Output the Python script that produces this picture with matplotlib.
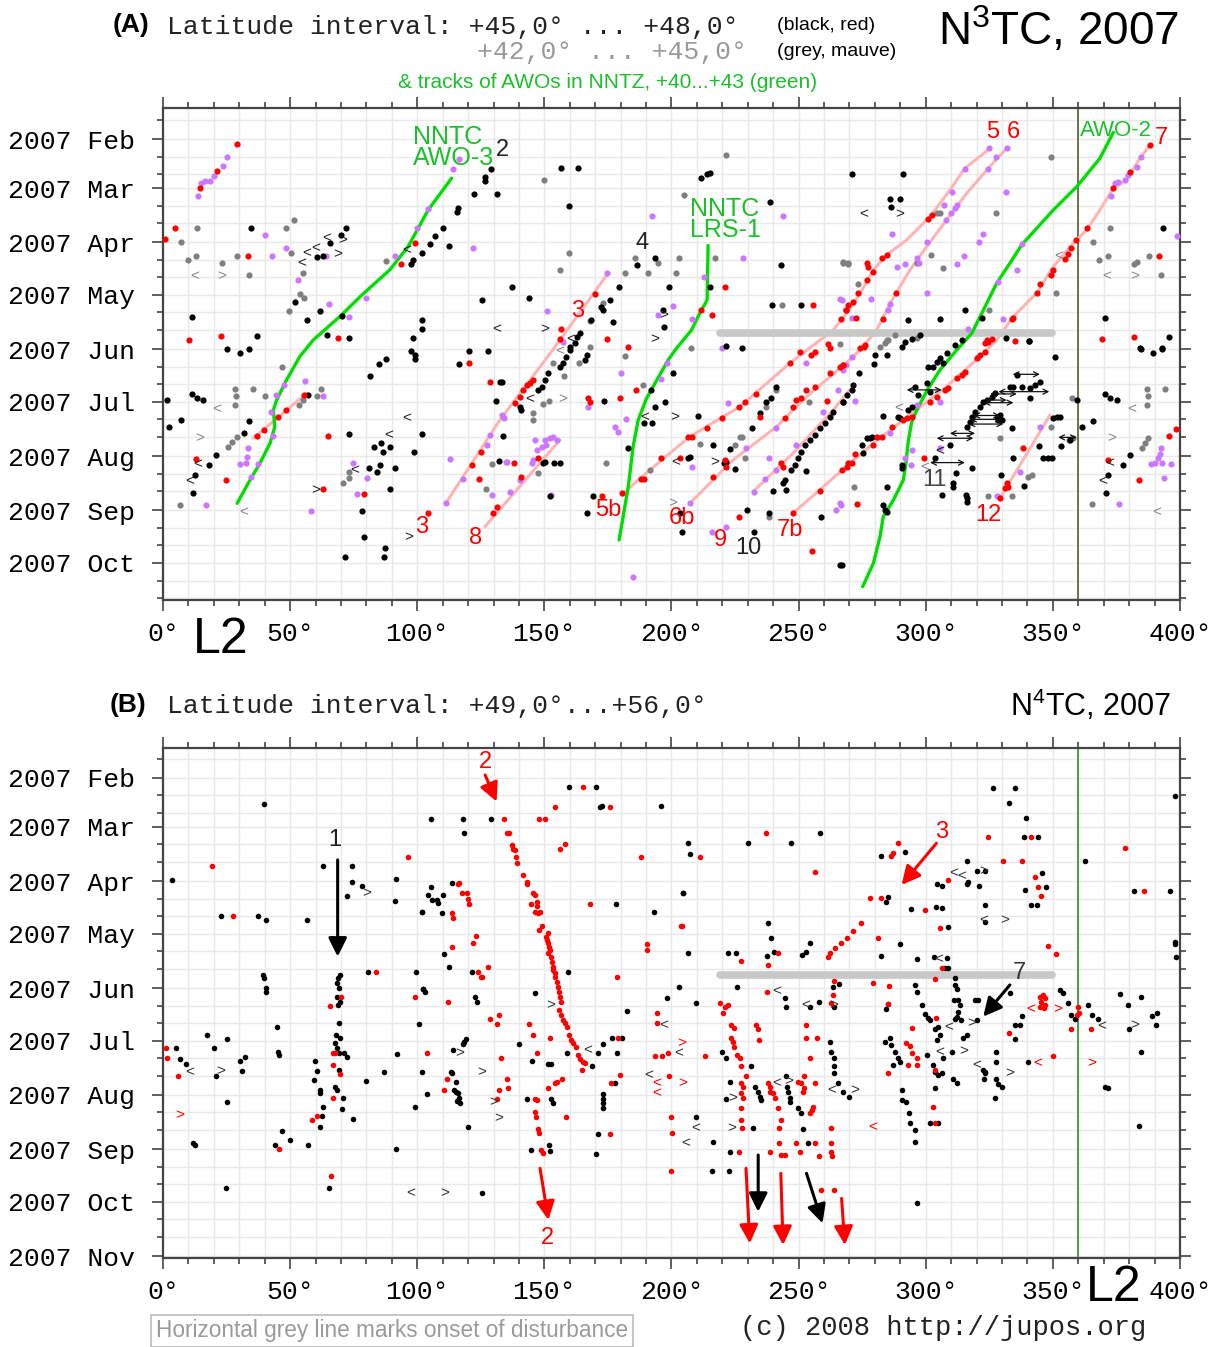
import numpy as np
import matplotlib
matplotlib.use('Agg')
from matplotlib import pyplot as plt

plt.rcParams['font.family'] = ['Liberation Sans', 'DejaVu Sans']
plt.rcParams['mathtext.fontset'] = 'custom'
plt.rcParams['mathtext.rm'] = 'Liberation Sans'
plt.rcParams['mathtext.default'] = 'rm'

MONO = 'Liberation Mono'

#=================================================
# DATA  (x = System II longitude L2 [deg], y = day of year 2007)
#=================================================
MONTH_NAMES = ['Jan', 'Feb', 'Mar', 'Apr', 'May', 'Jun', 'Jul', 'Aug', 'Sep', 'Oct', 'Nov', 'Dec']
MONTH_DAY = [1, 32, 60, 91, 121, 152, 182, 213, 244, 274, 305, 335]

# ---- panel A : N3TC, +45..+48 (black, red) and +42..+45 (grey, mauve)
A_BLACK = [
    (34.8,82.5),(72.1,82.5),(70.1,86.9),(65.6,91.5),(63,98.7),(60.4,99.1),(51.9,125.3),(61.7,130),(56.5,135.2),
    (70.5,133),(11.6,133.7),(36.8,144.7),(73.2,145.6),(64.7,143.7),(110,82.5),(106.8,87.6),(105,91.8),(112.6,92.8),
    (101.7,97.2),(98.4,101),(97.4,103.6),(116.1,71.5),(115.5,73.4),(122.4,63.5),(131.2,63.5),(126.6,53.8),(126.6,55.7),
    (129,49.1),(125.6,123.6),(101.7,135.2),(101.8,140.5),(98.2,145.6),
    (25.3,152),(30.3,154.3),(33.8,152),(97.4,152.8),(99.3,155.3),(99.3,157.4),(85,160.2),(87.7,157.4),(81.6,167.4),
    (116.5,160.2),(120.2,152.8),(128,152.8),(132.5,170.5),(131,181.3),(132.1,215.8),(1.4,181),(11.3,177.5),(13.5,180),
    (15.6,181),(6.9,192.4),(2.5,196.2),(33.9,193),(31.8,199.6),(57.1,178.3),(20.8,212.3),(18.2,218.1),(12.7,224),
    (11.9,234.2),(73.1,200.4),(83.1,207.6),(85.6,205.7),(89.2,207.6),(86.6,210.6),(98.8,210.6),(101.8,200.4),(81.1,220),
    (84.3,221.9),(85.3,218.1),(91.3,220),(89.2,231.9),(78.1,244.3),(79,259),(87.3,265.6),(86.9,270.8),(71.5,270.8),
    (156.7,48.3),(163.3,48.3),(159.8,70.2),(211.7,54),(214,52),(215.1,51.2),(238.7,68.1),(242.9,103.9),(137.1,116.2),
    (143.8,122.9),(179.3,116.2),(175.9,123.9),(172.2,127.7),(173.1,129.6),(168.5,135.3),(177.1,136.2),(186.5,103.9),
    (193.4,100.1),(199.1,116.2),(196.5,129.6),(197.1,139.1),(215,116.2),(239.7,126.5),(250.9,126.5),(164,142.9),
    (163,145.2),(160,150.5),(221.6,150.1),(227.8,151.4),
    (162,148.6),(160,152.4),(158.7,156.2),(157.4,160),(156.1,161.9),(166.6,155.3),(165.9,158.1),(151.5,165.7),
    (150.2,169.5),(148.9,173.3),(147.6,175.2),(141,186.7),(140.4,184.8),(133.5,170.5),(133.8,201.5),(149.5,217.1),
    (150.2,216.2),(153.7,216.7),(156.1,216.7),(152.2,235.6),(169.2,235.6),(166.8,245.3),(173.4,181.3),(183,208.5),
    (189.1,194.3),(192.5,194.3),(193.4,185.1),(197.4,181.9),(200.4,165.4),(192.1,175.2),(206.5,214.2),(207.2,213.3),
    (210.6,190.1),(216.4,206.6),(222.9,209.1),(225,220.5),(220.6,216.7),(221.6,216.2),(203.3,245.3),(204.1,256.1),
    (229.7,243.7),(232.4,256.1),(238.4,245.6),(231.5,197.1),(234.7,188.6),(237.3,181.9),(239.3,180),(241.3,173.3),
    (247.2,220.9),(248.5,218.1),(249.8,214.2),(251.1,210.4),(252.4,206.6),(254.4,203.8),(256.4,200.9),(258.3,197.1),
    (260.3,194.3),(262.3,190.5),(263.6,187.6),(244.6,226.6),(243.9,228.5),(240,232.7),(245.2,232.3),(252.8,221.3),
    (259,247.9),(266.4,275.1),(267.5,181.9),
    (270.9,52),(291.2,52),(286,66.4),(289.9,66.4),(286.4,71),(315.4,129.6),(293.2,135.3),(305.6,134.7),(297.8,143.8),
    (294.5,146.3),(291.9,147.6),(290.5,150.5),(311.5,149.5),(322,134.3),(331.4,145.7),(340.6,147),(393.4,82.6),
    (370.5,133.9),(395.7,144.8),(384.3,151.4),(392.8,151.4),
    (284.6,155.3),(280.1,155.3),(314.1,146.7),(305.6,157.2),(308.2,154.3),(306.9,160),(301,161.9),(303,161.9),
    (304.3,159.1),(279.8,160.4),(273.8,165.7),(271.5,172.4),(270.9,175.2),(268.9,178.1),(267.6,181.9),(295.8,173.3),
    (300.4,171.4),(301.7,176.2),(297.1,178.1),(294.5,184.8),(293.2,186.7),(289.2,190.5),(289.9,191.4),(283.3,190.1),
    (278.7,201.9),(278.1,202.8),(276.8,202.8),(274.8,206.6),(275.5,211.4),(290.5,218.1),(290.5,220),(284.6,230.4),
    (283.3,240.9),(284,243.7),(284.6,244.7),(267,275.1),(303.7,214.2),(306.3,235.2),(310.9,228.5),(310.9,230.4),
    (311.9,222.4),(315.8,235.2),(316.1,237.1),(316.1,239),(318.1,220),(309.5,206.6),
    (316.1,196.2),(317.4,193.3),(318.1,190.5),(319.4,187.6),(321.3,184.8),(322.7,181.9),(324,181),(326,179.1),
    (327.2,177.1),(328.6,192.4),(327.9,190.5),(329.2,189.5),(329.9,192.4),(333.1,173.3),(334.5,173.3),(335.8,166.7),
    (337.7,173.3),(341,174.3),(341,180),(343,172.4),(344.9,170.5),(334.1,196.7),(344.7,207),(346.2,214.2),
    (348.2,214.2),(349.5,214.2),(334.5,214.2),(329.5,223.8),(338.8,229.9),(350.8,156.6),(350.2,191.4),(351.5,190.8),
    (352.8,190.5),(353.1,207),(356.7,203.8),(359.6,181),(361.3,196.2),(365.9,192.7),(370.5,177.7),(372.5,180),
    (375.1,181),(377.4,218.1),(380.3,212.3),(371.8,223.8),(370.9,234.2),(384.6,152),(389.5,154.3),(392.8,152),
    (340.7,147.1),
]
A_RED = [
    (29.2,35),(14.5,60.1),(21.3,50.4),(4.8,82.5),(0.8,89.2),(33.3,98.7),(93.7,103.6),(99.2,91.5),(10.3,146.6),
    (22.7,144.7),(68.7,145.6),
    (120.4,160),(128.6,170.5),(55.4,178.3),(48.3,186.7),(45.3,190.5),(39.7,198.1),(36.8,201.5),(65.1,201.5),
    (12.8,214.8),(24.6,226.8),(63,231.9),(79.1,234.8),(104.2,245.3),(124.9,210.8),(121.5,218.1),(124.4,226),
    (131.4,242),(129.9,245.3),
    (169.9,120.6),(156.7,140.6),(156.1,146.3),(174.8,146.3),(183,150.5),(221.2,116.2),(216.1,132.4),(211.5,129.6),
    (255.8,126.5),(266.5,134.7),(268.5,129.6),(269.5,126.5),(261.6,149.2),(262.3,151.4),
    (186,175.2),(179.7,180),(167.2,180),(167.9,181.9),(145.6,169.5),(144.3,171.4),(143,172.4),(141.7,175.2),
    (140.4,179),(138.4,182.9),(138,216.7),(147.6,214.2),(141,224.7),(172.5,235.6),(180.7,233.8),(188.2,226),
    (189.1,226),(195.7,214.2),(203.3,214.2),(206.5,201.9),(207.9,201.9),(213.8,196.7),(219.7,191.4),(226.5,185.1),
    (229.1,181.9),(233.4,177.5),(234.7,190.5),(246.5,160),(250.5,153.4),(255,155.3),(256.4,153.4),(267.5,161),
    (266.2,161.9),(262.3,165.7),(253.1,175.2),(256.4,173.3),(249.1,181),(251.1,180),(261.3,181.3),(244.6,191.4),
    (247.8,184.8),(243.2,217.1),(243.9,219),(258.3,232.7),(247.8,245.6),(226.6,247.9),(255.4,267),(221,215.2),
    (221.6,219),(216.4,224.7),(269.5,217.1),
    (301,77.8),(302.3,75.3),(284.6,98.2),(282.7,100.1),(276.8,102.9),(277.4,104.8),(279.4,107.7),(276.8,112.4),
    (273.5,119.7),(271.5,124.8),(268.7,129.6),(288.3,119.7),(283,134.9),(272.6,134.3),(275.7,150.5),(274.2,151.4),
    (324,146.7),(325.9,146.3),(335.1,147.1),(333.8,134.9),(334.5,134.3),(344.9,114.7),(343.6,120),(349.1,109.6),
    (350.2,106.7),(354.8,100.6),(356.1,97.6),(357.1,94.4),(359.1,89.6),(363.5,82.6),(373.8,60.1),(380.5,50.6),
    (388.2,35.4),(391.9,98.7),(369.2,146.3),(382,144.8),
    (276.1,149.6),(267.6,161),(323.3,148.6),(324.6,147.7),(323.3,153.4),(321.3,155.3),(320,157.2),(315.4,164.8),
    (314.1,166.7),(312.2,168.6),(308.9,174.3),(307.6,175.2),(304.3,179),(301.7,181.9),(294.5,190.5),(292.5,191.4),
    (291.2,192.4),(286.6,196.2),(282.7,201.9),(280.7,201.9),(279.4,206.6),(272.2,211.8),(270.9,217.1),(268.9,219),
    (267,220.9),(299.3,214.2),(272.9,240.3),(338.1,208.5),(331.8,228.5),(332.5,230.4),(331.2,231.4),(329.2,237.1),
    (371.8,215.2),(383.9,226.6),(395.8,201.5),(398.4,197.7),
]
A_GREY = [
    (13.3,82.5),(7.1,90.7),(9.8,101),(13,98.7),(23.2,102.9),(29.2,98.7),(33.8,109.7),(48.3,82.5),(51.5,78.2),
    (50.4,97.2),(55.2,108.6),(53.9,120.5),(55.6,123),(49.4,130),(87.9,101.7),
    (46.9,162.3),(28.3,174.5),(28.7,178.5),(28.3,183.6),(35.4,174.5),(40.3,178.5),(53.6,183.6),(55.2,181),(60.4,178.5),
    (62.1,174.5),(25.7,207.6),(27,205),(29,202.3),(6.7,240.7),(70.9,228.5),(73.1,225.3),(73.1,221.9),(129.3,217.7),
    (127,231.9),
    (149.7,55.6),(221.6,41.1),(205.1,63.7),(159.8,97),(156.2,106.7),(181.9,108.3),(185.8,100.1),(194.5,102.5),
    (190.6,108.3),(201.6,108.3),(203.1,100.1),(217.3,100.1),(168,135.7),(173.1,125.4),(167.9,150.5),(207.6,151.4),
    (243.5,126.5),(267.5,102.4),(269.5,103.3),(266.2,149.2),
    (145.6,188.6),(145.6,192.4),(149.5,183.2),(151.9,181.3),(147.6,222.8),(157.7,167.3),(153.5,160),(163.7,160),
    (174.2,216.7),(181.9,155.8),(188.6,172.4),(191.5,220.9),(211.1,206.3),(226.9,201.9),(227.9,201.9),(224.9,206.6),
    (228.8,214.2),(237.3,185.1),(241.3,175.2),(254.1,181.9),(238.4,247.5),
    (349.3,42.4),(327.6,74.4),(304.3,74.4),(305.6,74.4),(301.9,98.2),(306.9,105.4),(267.6,102.5),(269.6,102.9),
    (273.5,114.7),(325,129.6),(351.2,120),(365.9,90.6),(372.5,82.6),(368.3,101),(371.8,98.7),(381.9,103.5),(383,102),
    (387.9,98.7),(392.5,109.8),(284.6,146.7),(282,150.5),(296.4,102.5),
    (284,148.6),(285.3,146.7),(287.9,143.9),(296.4,145.8),(271.8,230.8),(329.2,202.8),(333.8,235.6),(340.4,224.7),
    (341.7,223.8),(349.3,196.2),(357.7,180),(356.5,203.8),(358,202.8),(365.5,240.3),(386.9,174.9),(387.5,178.7),
    (387.1,183.8),(394.1,174.5),(384.9,208.5),(386.2,205.7),(387.5,202.8),(324.4,235.6),
]
A_MAUVE = [
    (13.6,64.5),(14.8,57.2),(16.5,55.7),(18.5,55.7),(20,53),(23.7,47.3),(25.3,42.4),(40.3,86.9),(43,98.7),(48.3,94.1),
    (53.3,112.6),(65.4,126.4),(73.1,133.3),(80,122.8),(91.2,98.7),(100.1,82.5),(104.4,72.1),(113.9,49.1),(116.5,43.2),
    (122,94.1),(64.3,98.7),
    (56,169.9),(63,178.5),(47.6,172.4),(44.4,178.3),(42.4,187.6),(43.4,201.5),(33.5,208.5),(33.1,213.3),(32.6,216.7),
    (30.3,217.7),(37.5,217.7),(34.6,224.9),(16.8,240.7),(58.4,244.3),(74.6,217.1),(80.1,225.3),(76.5,234.8),
    (112.8,214.8),(111.2,240),(118.1,226),(133.8,190.5),(128.6,201),(127.5,206.6),(129.6,235.2),(135.5,216.2),
    (192.4,76.1),(243.8,76.1),(228.2,100.1),(212.6,110.5),(174.8,108.3),(151.2,130.1),(200.7,127.3),(194.5,132.4),
    (208.1,134.7),(157.4,147.6),(219.7,151.4),(267,123.9),
    (133.5,189.5),(134.1,191.4),(180.3,165.4),(182,192),(177.7,196.2),(179,199),(195.8,169.2),(198.4,160),(135.1,216.5),
    (136.4,233.7),(146.3,203.8),(150.2,203.8),(152.2,202.8),(153.5,201.9),(154.8,203.8),(147,209.5),(148.9,207.6),
    (150.8,206.6),(145.6,215.2),(145,217.1),(140.6,226.6),(167,185.1),(152.8,235.2),(207.9,219),(222.3,182.5),
    (229.5,208.5),(238.4,214.2),(241.3,197.1),(249.1,206.6),(252.8,160),(265.5,175.2),(267.5,163.8),(268.8,161),
    (259.4,188),(232.4,233.3),(236.7,226.2),(241,220.9),(207.2,240),(216.1,256.1),(221.6,253.3),(266.8,240.9),
    (264.9,243.7),(184.7,282.2),
    (324.9,37.3),(331.8,37.3),(327.6,42.4),(315.4,49.1),(324.6,49.1),(331.6,62),(310.5,62),(307.3,69.6),(312.2,69.6),
    (311.5,71.5),(310,74.4),(308,78.2),(286.9,86.4),(322.7,86.4),(321.1,90.6),(300.4,90.6),(296.7,100.1),(315.1,98.7),
    (312.4,103.3),(291.9,103.3),(288.8,104.8),(297.5,102.9),(338,91.9),(336,106.5),(328.6,113.4),(300.4,119.7),
    (286,126.1),(285.3,129.6),(278.4,123.5),(266.3,123.5),(270.9,134.3),(330.3,134.7),(316.5,140.6),(372.7,64.3),
    (374.4,57.3),(375.7,56.3),(378.4,55.4),(379.7,52.5),(383,47.8),(384.6,42.4),(398.7,87.3),
    (270.9,156.2),(272.2,181.3),(266.3,240),(286,200),(296.4,183.8),(305.6,181.9),(294.5,209.5),(291.9,214.2),
    (305.6,208.5),(320.7,156.2),(327.9,235.6),(344.9,196.2),(337.1,221.9),(375.9,240.3),(392.4,208.5),(392.1,211.8),
    (391.5,214.2),(390.2,217.1),(388.5,217.5),(392.8,217.1),(396.3,217.5),(393.7,225.3),(294.1,218.1),
]
A_CHEV_BLACK = [
    (54.5,102.9,'<'),(56.7,97.2,'<'),(59.9,94.5,'<'),(64.3,88.6,'<'),(68.9,97.5,'>'),(70.5,89.6,'>'),(95.8,95.3,'<'),
    (131.2,140.5,'<'),(13.5,217.5,'<'),(10.6,227,'<'),(60.1,232.3,'>'),(95.8,191.4,'<'),(88.7,201,'<'),
    (75.5,220.9,'<'),(96.8,259.3,'>'),(150.2,140.6,'>'),(160.3,146,'<'),(197.1,132.4,'>'),(193.4,146.3,'>'),
    (144.3,180.4,'<'),(189.6,190.5,'<'),(201.3,190.9,'>'),(201.6,216.5,'<'),(217,216.5,'>'),(275.7,75,'<'),
    (289.9,75,'>'),(305.6,210.4,'<'),(372.5,217.1,'<'),(369.6,227,'<'),
]
A_CHEV_GREY = [
    (12.4,110,'<'),(23.2,110,'>'),(21.3,186.3,'<'),(14.3,202.8,'>'),(31.8,244.7,'<'),(157.1,180.4,'>'),
    (200.4,240,'>'),(156.1,152.8,'<'),(352.1,99.1,'<'),(371.1,110.5,'<'),(382.3,110.5,'>'),(289.2,185.7,'<'),
    (299.7,219,'<'),(373.1,202.8,'>'),(381,186.3,'<'),(391,244.7,'<'),
]
# drift ranges (lon from, lon to, day)
A_SPANS = [
    (292.5,306.3,175.2),(301.7,315.4,216.7),(304.3,318.7,202.8),(309.5,319.4,200),(316.8,330.5,194.7),
    (317.4,329.9,192),(318.7,329.2,189.8),(322.7,334.5,182.5),(323.3,331.8,181),(325.3,335.8,177.5),
    (328.6,348.6,176.2),(334.2,344.9,166.3),(352.1,359.4,202.3),
]
# pink tracks of N3TC spots
TRACK_3 = [(111.2,240),(132.5,192.4),(153.5,152),(175.1,108.6)]
TRACK_8 = [(126.6,253.3),(156.1,203.8)]
TRACK_S = [(35.5,202.8),(56.5,177.1)]
TRACK_5 = [(181,234.2),(191.5,220.9),(207.2,201.9),(226.9,184.8),(246.5,160),(263.6,141),(268.9,131.5),(274.2,120.1),
           (279.4,106.7),(284.6,98.2),(292.5,89.6),(301.7,76.3),(309.5,61.1),(315.4,48.7),(325.3,37.3)]
TRACK_6 = [(207.2,240),(224.2,215.2),(241.3,196.2),(253.1,179.1),(270.1,158.1),(274.2,152.4),(280.7,141),(286,125.8),
           (293.8,106.7),(300.4,93.4),(308.2,78.2),(316.1,63),(324.6,48.7),(331.8,37.3)]
TRACK_7 = [(247.8,245.6),(258.3,232.3),(270.1,217.1),(280,205),(308.2,173.3),(321.3,156.2),(327.9,146.7),(334.4,133.4),
           (343.6,120),(350.2,104.8),(358,91.5),(363.3,83.9),(368.5,72.5),(373.8,60.1),(379,55.4),(384.2,43),(388.2,35.4)]
TRACK_9 = [(232.1,233.3),(247.8,211.4),(263.6,186.7),(270.1,175.2)]
TRACK_12 = [(329.2,237.1),(348.9,189.5)]
# green tracks of AWOs in NNTZ
AWO_3 = [(113.5,54.4),(104.3,72.5),(96.4,93.4),(89.2,106.7),(77.5,122),(69.6,133.3),(59.1,146.7),(53.8,156.2),
         (48.6,169.5),(44.7,181),(43.4,186.7),(44,196.2),(42.1,205.7),(38.1,217.1),(33.5,228.5),(29.2,239.9)]
LRS_1 = [(214.4,92.8),(214,123.9),(211.1,131.5),(207.9,141),(202,151.4),(198.7,158.1),(190.2,180),(186.9,192.4),
         (184.9,207.6),(183,230.4),(179.4,260.9)]
AWO_2 = [(373.8,28.2),(368.5,43),(359.4,59.2),(350.2,72.5),(343.6,83),(337.7,92.5),(333.1,102.9),(327.9,114.3),
         (322.7,129.6),(318.1,142.9),(312.2,152.4),(305.6,163.8),(301,174.3),(297.1,184.8),(294.5,193.3),(293.2,203.8),
         (292.2,217.1),(291.2,226.6),(287.3,238),(283.3,247.5),(282,259),(279.4,274.2),(275.2,287.5)]
A_ONSET = (219, 349.7, 142.7)

# ---- panel B : N4TC, +49..+56
B_BLACK = [
    (39.8,47),(3.5,90.3),(63,82.3),(74.2,82.3),(74.2,91.2),(72.2,99.2),(78.1,93.7),(91.6,89.7),(91.2,102.1),
    (101.8,108.7),(22.7,110.8),(37.3,110.8),(40.5,113.1),(56.5,113.1),(80.7,143),(99.7,143),(102.1,152.7),
    (100.8,172.5),(92.1,189.8),(101.7,200.1),(99.3,219.7),(91.7,244.1),(39.4,144.5),(39.8,146.2),(40.4,151.7),
    (40.4,154),(69.5,144.5),(69,146.4),(68.6,149.3),(69.2,152.1),(68.3,156.9),(69.8,159.7),(68.9,161.6),(69.3,172.1),
    (68.2,178.8),(69.5,180.7),(67.8,183.5),(68.4,186.4),(69.2,189.3),(69.4,198.8),(67.5,208.3),(68.3,210.2),(71,215),
    (70.5,221.2),(74.6,227),(71.3,189.3),(72.2,191.1),(59.9,193.4),(60.6,199.5),(59.5,204.5),(61.7,210.2),(61.7,212.1),
    (63,219.7),(62.6,224.8),(61.6,231.5),(44.7,174.4),(45.3,188.3),(45.6,190.2),(32.2,191.1),(30.3,193.4),(31.2,199.3),
    (17.2,178.8),(20.2,186),(20.7,202.2),(25.3,181.1),(25.3,216.9),(5,186),(6.7,192.7),(9,195.5),(11.7,240.3),
    (12.6,241.6),(47,233.6),(50.1,238.7),(43.9,241.6),(56.9,241.6),(24.8,266),(65.3,266),(79.7,205),(86.9,200.1),
    (159.8,37),(170.3,37),(171.9,48.4),(172.5,48),(195.7,48),(105.4,55.4),(118.1,55.4),(129,55.4),(118.5,63.2),
    (105.4,94.1),(104.4,98.8),(105.7,101.7),(107.7,101.7),(108.3,103.6),(110,98.8),(109.6,109.3),(101.8,108.7),
    (113.6,91.8),(178,104.2),(193.1,108.7),(204.4,97.9),(110.5,132.7),(112.5,140.1),(121.7,143),(159.4,143),
    (102.4,152.7),(103.1,154),(122.7,157.3),(123.4,159.7),(146.3,154.6),(182.4,164.9),(203.1,151.2),(198.4,157.5),
    (119.2,181.2),(118.1,183.9),(118.5,182.6),(140.2,183.9),(113.9,187.3),(158.8,189.3),(171.2,189.3),(178.4,189.3),
    (172.9,183.9),(176.5,180.3),(180.4,180.3),(168.6,196.5),(145,193.4),(151.6,195.5),(152.5,195.5),(113.3,199.7),
    (113.8,200.7),(115.3,205.8),(114.6,210.2),(115.3,211.1),(116.2,212.1),(116.6,215),(115.8,216.5),(116.8,217.8),
    (103.7,212.5),(143,215.5),(152.6,215.5),(153.3,217.8),(172.9,212.5),(173.2,215.5),(172.9,217.8),(173.2,220.7),
    (177.8,206),(120.1,231.5),(171.2,235.3),(144.7,244.5),(152,241.6),(152.2,245),(170.3,246.9),(125.5,268.8),
    (206.6,69),(207.2,75.6),(230.2,69),(247,69),(258.6,63.2),(204.6,97.5),(238,115),(239.3,123.2),(240.4,131.6),
    (237.4,133.5),(222.3,131.8),(225.3,131.8),(206.6,131.8),(251.5,133.1),(252.8,131.6),(254.4,126),(282.6,76.4),
    (284.3,102.6),(285.2,99.8),(291.9,74.1),(289.8,126.8),(282.6,133.5),(296.6,135.4),(294.1,107),(304.2,105.5),
    (306.2,106.4),(303.3,134.4),(225.6,151.2),(209.6,160.7),(263.6,151.2),(265.9,149.6),(244.6,157.5),(245.2,162.6),
    (254.4,162.6),(258.1,159.7),(263.9,162.6),(295.7,150.2),(296.6,154.4),(284.3,164.1),(285.2,161.1),(298.7,161.6),
    (299.6,166.8),(300.9,168.9),(301.6,170.2),(303.6,175.2),(220,188.7),(221.3,191.7),(231.2,196.5),(223,205.8),
    (221.6,215.3),(209.6,225.8),(216.4,239.7),(223.2,245.4),(222.7,256.4),(215.8,256.4),(231.9,232.1),(232.8,208.3),
    (234.1,211.1),(234.8,214),(235.4,215.9),(245,202.2),(245.5,208.3),(245.9,211.1),(246.5,215),(246.5,216.8),
    (249.8,220.7),(250.9,223.1),(251.8,232.3),(253.5,240.3),(262.3,182.6),(262.9,188.3),(263.9,192.1),(263.9,196.5),
    (263.9,200.7),(265.6,206.4),(267.5,211.1),(269.7,214),(283.9,182.6),(285.9,180.7),(286.5,184.5),(287.8,188.3),
    (289.1,192.1),(289.8,194),(287.2,195.9),(290.5,210.2),(290.5,215.9),(292.4,216.8),(293.3,223.5),(293.7,229.2),
    (295.7,233),(295.7,239.7),(296.4,274.9),(300.3,190.2),(302.9,195.9),(303.6,199.7),(304.9,201.6),(306.2,200.7),
    (303.6,209.2),(301.6,229.2),(304.9,229.2),
    (326.5,37.5),(335.1,37.5),(332.7,46.5),(339.6,54.7),(338.7,65.5),(344.2,65.5),(316.1,79.2),(320,84.9),(323.5,84.9),
    (316.7,91.2),(316.4,92.7),(304.3,92.5),(306.2,93.7),(321,93.7),(345.8,86.1),(347.2,94.3),(339,96.2),(341.3,104.3),
    (343.6,104.3),(323.5,104.3),(323.5,114.1),(308.8,116.9),(362.8,79.2),(382,96.7),(396,96.7),(398,125.5),
    (398.2,126.8),(398.6,134),(398.2,42.3),(308.2,135),(308.8,140.3),(307.5,140.3),(311.5,146.4),(311.7,150.2),
    (312.1,152.7),(311.2,158.8),(312.5,158.8),(313.4,161.6),(312.8,165.5),(313.8,170.2),(312.1,168.3),(311.5,169.8),
    (304.9,174),(305.6,178.8),(304.3,181.6),(319.3,158.8),(320.6,158.8),(320,170.2),(316.1,178.8),(314.7,180.7),
    (310.2,188.3),(306.9,192.1),(333.1,155),(337.9,167.9),(335,173.1),(337,173.1),(335,181.1),(327.6,188.3),
    (327.6,194),(322.6,198.8),(323.3,199.7),(323.3,200.7),(323,204.1),(327.6,204.1),(328.5,207),(329.8,208.3),
    (327.2,214.6),(310.8,204.1),(312.1,206.4),(340.3,194),(352.7,153.1),(354.1,155),(356,160.7),(357.3,167.4),
    (358.6,169.8),(363.9,161.6),(365.2,167.4),(367.8,169.8),(376.3,155.4),(379.4,161.6),(379.9,175.5),(384.5,157.3),
    (384.5,188.3),(388.8,167.9),(390.8,166),(390.4,173.1),(370.4,208.3),(371.8,209.2),(383.8,230.6),
]
B_RED = [
    (19.3,82.3),(27.4,110.8),(96.2,77.3),(83.8,143),(99.2,156.9),(65.8,162),(70,156.9),(67,189.3),(67.6,188.9),
    (66.7,195.9),(69.6,201),(67,215),(60.4,224.8),(58.8,227.3),(45.7,244.1),(1.2,186.4),(1.7,192.1),(6,202.2),
    (66.2,259.3),
    (134.1,55.4),(135.4,63.2),(136.2,63.6),(137.1,70.3),(137.8,72.7),(138.5,73.1),(138.8,77.3),(139.4,80.3),
    (141.7,87.4),(143,91.2),(143.3,92.5),(145.7,97.5),(146.3,98.8),(144.6,104.1),(147,102.6),(147.2,105.1),
    (146.3,108.3),(147.6,109.3),(148.3,108.7),(149.2,116.5),(147.9,118.8),(151.6,120.3),(150.6,122.6),(150.9,124.5),
    (151.6,126.4),(151.9,128.3),(152.2,130.2),(151.6,132.1),(152.5,134),(152.9,136.9),(153.3,139.8),(153.5,141.7),
    (154.1,143.6),(154.3,145.8),(154.8,148.3),(155.5,151.2),(155.9,154),(156.1,156.9),(156.4,159.7),(155.9,164.5),
    (156.4,167.3),(157.2,170.2),(158.1,172.1),(158.8,174),(159.8,178.8),(160.3,181.6),(161.4,183.5),(162.4,185.4),
    (163.4,190.2),(164,192.7),(165.1,194),(166,194.9),(164.7,198.8),
    (146.3,215.5),(147.2,215.9),(146.3,222.6),(146.7,225.8),(147.6,232.6),(148,235),(148.5,244.4),(149.3,246.4),
    (165.3,37),(175.8,48.8),(154.2,48.8),(148,55.4),(150.2,55.4),(156.1,72.7),(158.1,69.7),(187.9,77.3),(167.9,104.2),
    (116.6,92.2),(116.2,92.7),(117.5,97.9),(119.4,97.5),(120.1,101.3),(120.5,104.2),(113.6,109.3),(113.9,112.2),
    (122.1,126),(123.1,122.2),(113.6,128.3),(124,143),(125,145.9),(125.3,145.5),(128,140.1),(190.2,126.8),
    (190.5,130.2),(178.4,145.9),(112,159.7),(128.6,169.8),(132.2,167.4),(131.5,172.5),(144.1,172.5),(145.7,178.8),
    (147.2,189.2),(152.2,180.3),(103.7,189.2),(133.1,192.1),(111.6,203.9),(110.5,210.2),(135.2,203.9),(135.8,208.9),
    (132.2,210.2),(131.5,215.5),(151.6,208.9),(154.2,206.4),(154.8,205.8),(156.8,203.9),(158.4,225.8),(175.8,235.3),
    (179.7,201.6),(176.1,206.4),(179.1,180.3),(194.4,166.4),(194.2,172.1),(193.5,190.6),(196.1,190.6),(198.7,189.3),
    (199.1,202.2),(199.7,225.8),(200.1,234.5),(199.7,256.4),(203.7,116.3),
    (211.2,76.9),(237,63.2),(256.5,85.9),(204,116.3),(227.4,136.3),(237.8,138.8),(242,131.8),(261.6,134),(262.3,132.1),
    (264.2,129.3),(266.5,126),(269.1,123.2),(271.2,119.2),(274.7,115),(278,100.7),(282.6,100.7),(281.3,123.2),
    (286.5,76.4),(287.2,75),(289.1,69),(299.6,107.4),(237.6,154),(263.6,155.9),(262.9,160.7),(264,147.7),(279.3,148.9),
    (285.6,150.6),(285.2,161.3),(219,160.7),(221,162.6),(220.3,166.4),(222.3,161.6),(223.6,173),(224.5,175),
    (223.6,180.7),(224,182.6),(224.5,185.4),(225.6,190.2),(226.9,192.1),(233.4,173),(234.1,175.5),(234.5,181.6),
    (253.1,173),(253.1,180.3),(257.4,180.3),(254.4,192.1),(213.1,190.6),(227.3,196.3),(229.5,202.2),(227.5,206.4),
    (228.2,208.3),(227.3,212.1),(228.2,215),(238,206.4),(238.7,208.3),(240,212.1),(240.7,215),(238.7,211.1),
    (242,220.7),(249.8,205.4),(251.1,206.4),(252,209.2),(251.8,211.1),(252,202.2),(256.4,206.4),(227.5,220.7),
    (227.5,227.3),(227.9,232.1),(242.4,232.1),(242.9,227.3),(242.4,240.3),(242.9,247.3),(244.6,247.3),(248.9,240.3),
    (250.5,245.4),(256.4,240.3),(258.1,247.9),(255.7,219.7),(255.1,221.6),(254.4,223.5),(262.7,232.1),(262.9,240.3),
    (262.9,245.4),(263.2,247.9),(259,267.3),(264,267.3),(226.6,245.4),(238.9,245.4),(292.4,183.2),(293.7,185.1),
    (294.4,189.3),(293.2,195.9),(296.4,195.9),(296.6,192.1),(294.4,175),(285.2,200.7),(302.9,219.7),(303.6,229.2),
    (304.2,168.9),
    (324.3,65.5),(341.3,65.5),(330.5,79.2),(337.9,79.2),(308.8,90.3),(342.9,88.7),(344.2,94.3),(345.5,99.4),
    (305.6,117.9),(378.3,72.2),(385.9,96.7),(348.2,127.8),(351.2,132.7),(306.2,140.3),(303.6,147),(344.9,156.9),
    (346.2,156),(346.9,157.8),(345.5,159.7),(344.9,162.6),(346.6,163.6),(346.9,161.7),(359.7,162.6),(360.2,166),
    (359.3,167.4),(357.3,175.5),(364.9,175.5),(332.7,177.4),(350.1,190.8),(303.6,198.8),
]
B_CHEV_BLACK = [
    (80.1,97.5,'>'),(10.6,199.7,'<'),(22.8,199.3,'>'),(97.4,269.2,'<'),(152.6,162,'>'),(166.9,187.3,'<'),
    (116.8,189.2,'>'),(125.3,200.1,'>'),(129.9,217.2,'>'),(132.2,226.4,'>'),(190.9,201.6,'<'),(196.8,173.1,'<'),
    (110.9,269.2,'>'),(202.7,189.2,'<'),(241.3,154,'<'),(252.8,162,'<'),(263.9,162,'>'),(241.3,206.4,'<'),
    (245.9,205.4,'>'),(262.9,210.2,'<'),(272.1,210.2,'>'),(209.5,232.1,'<'),(205.7,240.3,'<'),(223.6,232.1,'>'),
    (224,215,'>'),(310.8,86.5,'<'),(314.1,88.3,'<'),(322.6,85.1,'>'),(322.6,113.1,'<'),(331.1,113.1,'>'),
    (304.9,135.6,'<'),(369.1,173.6,'<'),(382,173.1,'>'),(320,195.9,'<'),(333.1,200.7,'>'),(305.6,188.3,'<'),
    (318,172,'>'),(309,174,'<'),(315,188,'>'),
]
B_CHEV_RED = [
    (6.7,224.5,'>'),(204,183.2,'>'),(194.1,206.4,'<'),(194.1,212.1,'<'),(204.6,206.4,'>'),(279.3,231.1,'<'),
    (341.3,164.1,'<'),(351.8,164.1,'>'),(344.2,194.6,'<'),(365.2,194.6,'>'),
]
# arrows (lon start, day start, lon end, day end)
B_ARROWS_BLACK = [(68.7,78.8,68.7,134),(234.1,247.3,234.1,279.7),(253.1,257.8,259.4,286.3),(333.1,150.2,322.6,168.3)]
B_ARROWS_RED = [(126.7,30.3,131.2,45.5),(148.3,254.9,151.6,284.4),(229.3,254.9,230.8,297.8),(243,257.8,243.9,298.7),
                (266.9,272.1,268.2,298.7),(304.2,69.3,290.5,93.1)]
B_ONSET = (219, 349.7, 144.5)

BLACK = '#000000'
RED = '#ff0000'
GREY = '#7f7f7f'
MAUVE = '#cc77ff'
PINK = '#ffb4b4'
GREEN = '#00dd00'
GREEN_TXT = '#1cbf2c'

#=================================================
# PLOT FUNCTIONS
#=================================================

def setup_axes(ax, first_month, last_month, ylim, l360_color):
    ax.set_xticks(np.arange(0, 401, 50))
    ax.set_xticks(np.arange(0, 401, 10), minor=True)
    ax.set_xticklabels(['%d\u00b0' % v for v in range(0, 401, 50)], fontfamily=MONO, fontsize=19)
    idx = range(first_month, last_month + 1)
    ax.set_yticks([MONTH_DAY[i] for i in idx])
    ax.set_yticklabels(['2007 %s' % MONTH_NAMES[i] for i in idx], fontfamily=MONO, fontsize=19)
    minor = [MONTH_DAY[i] + k for i in range(12) for k in (10, 20)]
    ax.set_yticks([m for m in minor if ylim[1] < m < ylim[0]], minor=True)
    # limits after the ticks, set_ticks may widen them
    ax.set_xlim(0, 400)
    ax.set_ylim(*ylim)
    ax.grid(True, which='both', color='#e9e9e9', lw=1.0, zorder=0)
    ax.set_axisbelow(True)
    ax.tick_params(which='both', direction='out', top=True, right=True, color='#444444', width=1.2)
    ax.tick_params(which='major', length=8, pad=8)
    ax.tick_params(which='minor', length=4)
    ax.tick_params(axis='y', which='major', pad=12)
    for s in ax.spines.values():
        s.set_color('#444444')
        s.set_linewidth(1.6)
    ax.axvline(360, color=l360_color, lw=1.1, zorder=1)


def scatter_pts(ax, pts, color, size=20):
    a = np.array(pts)
    ax.scatter(a[:, 0], a[:, 1], s=size, c=color, linewidths=0, zorder=3)


def chevrons(ax, pts, color):
    for lon, day, g in pts:
        ax.text(lon, day, g, color=color, fontsize=11, ha='center', va='center', zorder=3)


def track(ax, pts, color, lw):
    a = np.array(pts)
    ax.plot(a[:, 0], a[:, 1], color=color, lw=lw, solid_capstyle='round', zorder=2)


fig = plt.figure(figsize=(12.19, 13.47), dpi=100)

#---------------- panel A
axA = fig.add_axes([0.1337, 0.5546, 0.8343, 0.3652])
setup_axes(axA, 1, 9, (295.1, 14.3), '#4d4d1a')

for t in (TRACK_3, TRACK_8, TRACK_S, TRACK_5, TRACK_6, TRACK_7, TRACK_9, TRACK_12):
    track(axA, t, PINK, 2.2)
lon0, lon1, d = A_ONSET
axA.plot([lon0, lon1], [d, d], color='#c8c8c8', lw=5.5, solid_capstyle='round', zorder=2)

scatter_pts(axA, A_GREY, GREY)
scatter_pts(axA, A_MAUVE, MAUVE)
scatter_pts(axA, A_BLACK, BLACK)
scatter_pts(axA, A_RED, RED)
chevrons(axA, A_CHEV_BLACK, '#222222')
chevrons(axA, A_CHEV_GREY, '#888888')
for l0, l1, d in A_SPANS:
    axA.annotate('', xy=(l1, d), xytext=(l0, d),
                 arrowprops=dict(arrowstyle='<->', color='#111111', lw=0.9, shrinkA=0, shrinkB=0,
                                 mutation_scale=9), zorder=4)

for t in (AWO_3, LRS_1, AWO_2):
    track(axA, t, GREEN, 2.4)

axA.text(98.3, 37, 'NNTC\nAWO-3', color=GREEN_TXT, fontsize=18, linespacing=0.85, ha='left', va='center')
axA.text(207.2, 78, 'NNTC\nLRS-1', color=GREEN_TXT, fontsize=18, linespacing=0.85, ha='left', va='center')
axA.text(360.5, 27, 'AWO-2', color=GREEN_TXT, fontsize=16, ha='left', va='center')
axA.text(133.7, 38.3, '2', color='#222222', fontsize=17, ha='center', va='center')
axA.text(188.4, 91.4, '4', color='#222222', fontsize=17, ha='center', va='center')
axA.text(163.2, 130.2, '3', color=RED, fontsize=17, ha='center', va='center')
axA.text(326.5, 28, '5', color=RED, fontsize=17, ha='center', va='center')
axA.text(334.3, 28, '6', color=RED, fontsize=17, ha='center', va='center')
axA.text(392.8, 31.4, '7', color=RED, fontsize=17, ha='center', va='center')
axA.text(101.9, 253.5, '3', color=RED, fontsize=17, ha='center', va='center')
axA.text(123.1, 259.7, '8', color=RED, fontsize=17, ha='center', va='center')
axA.text(175, 243.8, '5b', color=RED, fontsize=17, ha='center', va='center')
axA.text(204.1, 248.3, '6b', color=RED, fontsize=17, ha='center', va='center')
axA.text(219.1, 260.9, '9', color=RED, fontsize=17, ha='center', va='center')
axA.text(230.1, 265.5, '10', color='#222222', fontsize=17, ha='center', va='center')
axA.text(246.6, 255.2, '7b', color=RED, fontsize=17, ha='center', va='center')
axA.text(303.6, 226.6, '11', color='#444444', fontsize=17, ha='center', va='center')
axA.text(324.5, 246.6, '12', color=RED, fontsize=17, ha='center', va='center')

#---------------- panel B
axB = fig.add_axes([0.1337, 0.0661, 0.8343, 0.3786])
setup_axes(axB, 1, 10, (306.1, 14.9), '#1a8a1a')

lon0, lon1, d = B_ONSET
axB.plot([lon0, lon1], [d, d], color='#c8c8c8', lw=5.5, solid_capstyle='round', zorder=2)
scatter_pts(axB, B_BLACK, BLACK, 16)
scatter_pts(axB, B_RED, RED, 16)
chevrons(axB, B_CHEV_BLACK, '#333333')
chevrons(axB, B_CHEV_RED, RED)
for arrows, col in ((B_ARROWS_BLACK, BLACK), (B_ARROWS_RED, RED)):
    for l0, d0, l1, d1 in arrows:
        axB.annotate('', xy=(l1, d1), xytext=(l0, d0),
                     arrowprops=dict(arrowstyle='-|>', color=col, lw=2.2, shrinkA=0, shrinkB=0,
                                     mutation_scale=28), zorder=4)
axB.text(67.6, 67.4, '1', color='#222222', fontsize=17, ha='center', va='center')
axB.text(127, 22.9, '2', color=RED, fontsize=17, ha='center', va='center')
axB.text(151.4, 294.7, '2', color=RED, fontsize=17, ha='center', va='center')
axB.text(306.4, 62.8, '3', color=RED, fontsize=17, ha='center', va='center')
axB.text(336.7, 143.5, '7', color='#333333', fontsize=17, ha='center', va='center')

#---------------- headers and notes
fig.text(0.0927, 0.9814, '(A)', fontsize=19, fontweight='bold', va='center')
fig.text(0.137, 0.980, 'Latitude interval: +45,0\u00b0 ... +48,0\u00b0', fontfamily=MONO, fontsize=19,
         color='#222222', va='center')
fig.text(0.3913, 0.9614, '+42,0\u00b0 ... +45,0\u00b0', fontfamily=MONO, fontsize=19, color='#999999', va='center')
fig.text(0.6374, 0.9814, '(black, red)', fontsize=14, va='center')
fig.text(0.6374, 0.9614, '(grey, mauve)', fontsize=14, va='center')
fig.text(0.4988, 0.9391, '& tracks of AWOs in NNTZ, +40...+43 (green)', color=GREEN_TXT, fontsize=15,
         ha='center', va='center')
fig.text(0.7695, 0.9777, r'N$^{3}$TC, 2007', fontsize=33, va='center')
fig.text(0.1813, 0.5249, 'L2', fontsize=36, ha='center', va='center')

fig.text(0.0902, 0.4766, '(B)', fontsize=19, fontweight='bold', va='center')
fig.text(0.137, 0.4759, 'Latitude interval: +49,0\u00b0...+56,0\u00b0', fontfamily=MONO, fontsize=19,
         color='#222222', va='center')
fig.text(0.8286, 0.4766, r'N$^{4}$TC, 2007', fontsize=22, va='center')
fig.text(0.9139, 0.0438, 'L2', fontsize=36, ha='center', va='center')

fig.text(0.3216, 0.0119, 'Horizontal grey line marks onset of disturbance', color='#9a9a9a', fontsize=16.3,
         ha='center', va='center',
         bbox=dict(boxstyle='square,pad=0.2', facecolor='white', edgecolor='#bbbbbb', lw=1.2))
fig.text(0.607, 0.0141, '(c) 2008 http://jupos.org', fontfamily=MONO, fontsize=19.5, color='#222222', va='center')

fig.savefig('out.png', dpi=100, facecolor='white')
